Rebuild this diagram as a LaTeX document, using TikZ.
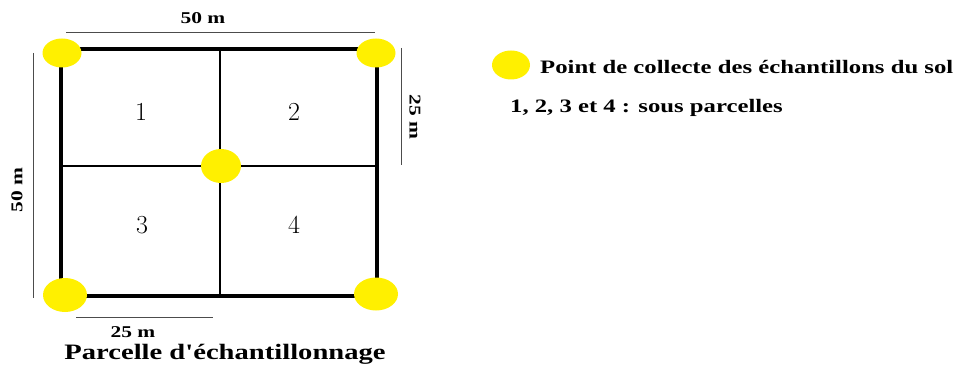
\documentclass[tikz,border=0pt]{standalone}
\usepackage{fontspec}
\newfontfamily\wide[FakeStretch=1.3]{Liberation Serif}
\newfontfamily\numfont{Latin Modern Roman}
\usetikzlibrary{shapes.geometric}
\definecolor{dotyellow}{RGB}{255,240,0}
\begin{document}
\begin{tikzpicture}[x=1pt,y=-1pt,
  border/.style={line width=4.8pt,line cap=rect},
  inner/.style={line width=2.8pt},
  dim/.style={line width=0.8pt,draw=black!70},
  dot/.style={ellipse,fill=dotyellow,inner sep=0pt},
  lbl/.style={font=\wide\fontsize{16.5}{16.5}\selectfont\bfseries,inner sep=0pt},
  num/.style={font=\numfont\fontsize{26}{26}\selectfont,inner sep=0pt}]
\useasboundingbox (0,0) rectangle (958,366);
\coordinate (TL) at (61,49);
\coordinate (TR) at (377,49);
\coordinate (BL) at (61,296);
\coordinate (BR) at (377,296);
\coordinate (TM) at (220,49);
\coordinate (BM) at (220,296);
\coordinate (LM) at (61,166);
\coordinate (RM) at (377,166);
\draw[inner] (TM) -- (BM);
\draw[inner] (LM) -- (RM);
\draw[border] (TL) -- (TR) -- (BR) -- (BL) -- cycle;
\node[dot,minimum width=39pt,minimum height=29pt] (d1) at (62,53) {};
\node[dot,minimum width=39pt,minimum height=29pt] (d2) at (376,53) {};
\node[dot,minimum width=40pt,minimum height=34pt] (d5) at (221,166) {};
\node[dot,minimum width=44pt,minimum height=34pt] (d3) at (65,295) {};
\node[dot,minimum width=44pt,minimum height=33pt] (d4) at (376,294) {};
\node[num] (n1) at (141,112) {1};
\node[num] (n2) at (294,112) {2};
\node[num] (n3) at (142,225) {3};
\node[num] (n4) at (294,225) {4};
% dimension lines
\coordinate (t1) at (66,32); \coordinate (t2) at (375,32);
\draw[dim] (t1) -- (t2);
\node[lbl] (tl) at (203,18) {50 m};
\coordinate (l1) at (33,53); \coordinate (l2) at (33,298);
\draw[dim] (l1) -- (l2);
\node[lbl,rotate=90] (ll) at (17,190) {50 m};
\coordinate (r1) at (401,48); \coordinate (r2) at (401,165);
\draw[dim] (r1) -- (r2);
\node[lbl,rotate=-90] (rl) at (415,117) {25 m};
\coordinate (b1) at (76,317); \coordinate (b2) at (213,317);
\draw[dim] (b1) -- (b2);
\node[lbl] (bl) at (133,332) {25 m};
\node[font=\wide\fontsize{22}{22}\selectfont\bfseries,inner sep=0pt] (title) at (225,354) {Parcelle d'échantillonnage};
% legend
\node[dot,minimum width=38pt,minimum height=29pt] (ld) at (511,65) {};
\node[font=\wide\fontsize{19}{19}\selectfont\bfseries,inner sep=0pt,anchor=west] (lt1) at (540,67) {Point de collecte des échantillons du sol};
\node[font=\wide\fontsize{19}{19}\selectfont\bfseries,inner sep=0pt,anchor=west] (lt2) at (510,108) {1, 2, 3 et 4 : sous parcelles};
\end{tikzpicture}
\end{document}
